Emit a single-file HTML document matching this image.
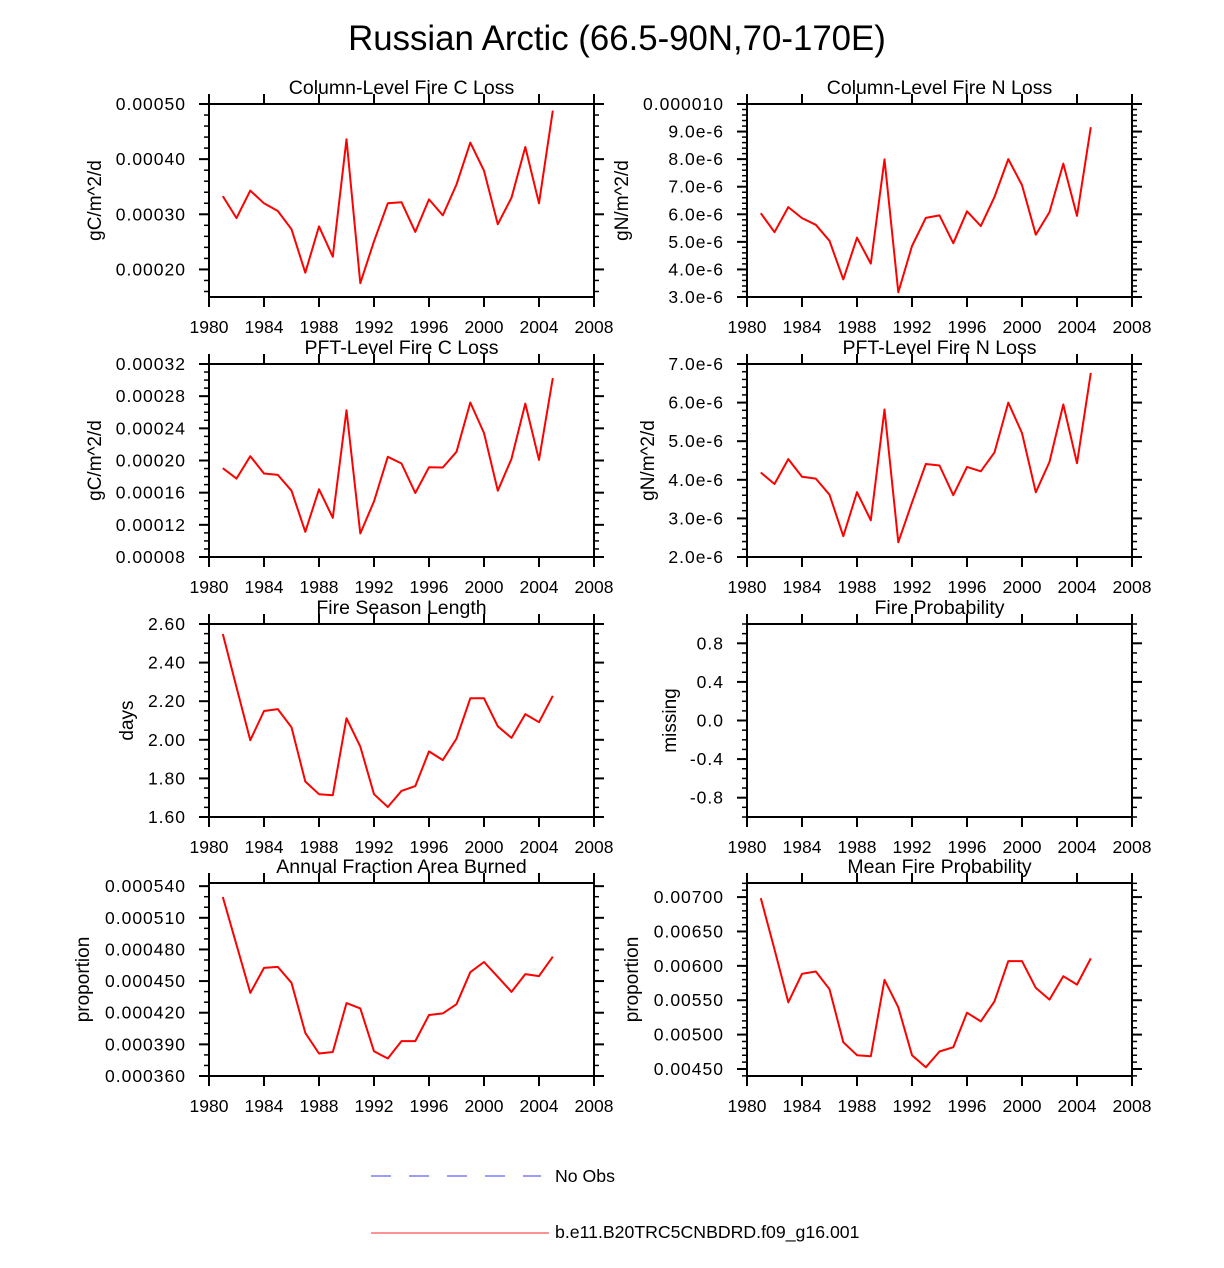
<!DOCTYPE html>
<html><head><meta charset="utf-8">
<style>
html,body{margin:0;padding:0;background:#fff;}
svg{display:block;font-family:"Liberation Sans",Arial,sans-serif;}
</style></head>
<body>
<svg id="fig" width="1224" height="1268" viewBox="0 0 1224 1268" xmlns="http://www.w3.org/2000/svg">
<text x="617" y="50" font-size="34.8" text-anchor="middle">Russian Arctic (66.5-90N,70-170E)</text>
<g>
<line x1="371" y1="1176" x2="541" y2="1176" stroke="#7b7bff" stroke-width="1.5" stroke-dasharray="20,18"/>
<text x="555" y="1182" font-size="17.7">No Obs</text>
<line x1="371" y1="1233" x2="549" y2="1233" stroke="#ff5050" stroke-width="1.2"/>
<text x="555" y="1238" font-size="17.7">b.e11.B20TRC5CNBDRD.f09_g16.001</text>
</g>
</svg>
<script>
const years = [1981,1982,1983,1984,1985,1986,1987,1988,1989,1990,1991,1992,1993,1994,1995,1996,1997,1998,1999,2000,2001,2002,2003,2004,2005];
const xTicks = [1980,1984,1988,1992,1996,2000,2004,2008];
const colCLoss = [0.000333,0.000293,0.000343,0.000320,0.000306,0.000273,0.000194,0.000278,0.000223,0.000436,0.000175,0.000251,0.000320,0.000322,0.000268,0.000327,0.000298,0.000354,0.000430,0.000379,0.000282,0.000330,0.000422,0.000320,0.000488];
const colNLoss = [6.04e-6,5.35e-6,6.26e-6,5.86e-6,5.62e-6,5.04e-6,3.64e-6,5.15e-6,4.21e-6,7.99e-6,3.17e-6,4.85e-6,5.87e-6,5.96e-6,4.95e-6,6.11e-6,5.57e-6,6.63e-6,8.00e-6,7.06e-6,5.26e-6,6.08e-6,7.84e-6,5.94e-6,9.16e-6];
const pftCLoss = [0.0001904,0.0001775,0.0002054,0.0001838,0.0001821,0.0001625,0.0001113,0.0001642,0.0001288,0.0002625,0.0001092,0.0001492,0.0002046,0.0001963,0.0001596,0.0001917,0.0001913,0.0002108,0.0002721,0.0002342,0.0001625,0.0002021,0.0002708,0.0002008,0.0003025];
const pftNLoss = [4.19e-6,3.89e-6,4.535e-6,4.08e-6,4.03e-6,3.615e-6,2.54e-6,3.68e-6,2.95e-6,5.82e-6,2.38e-6,3.41e-6,4.41e-6,4.37e-6,3.60e-6,4.335e-6,4.22e-6,4.71e-6,6.0e-6,5.21e-6,3.675e-6,4.465e-6,5.95e-6,4.43e-6,6.77e-6];
const seasonLen = [2.548,2.272,1.998,2.149,2.159,2.065,1.784,1.718,1.713,2.112,1.965,1.718,1.652,1.735,1.760,1.940,1.895,2.006,2.215,2.215,2.070,2.010,2.133,2.091,2.228];
const fireProb = [];
const areaBurned = [0.0005297,0.0004844,0.0004388,0.0004625,0.0004634,0.0004484,0.0004009,0.0003813,0.0003828,0.0004291,0.0004241,0.0003834,0.0003766,0.0003931,0.0003931,0.0004178,0.0004194,0.0004281,0.0004584,0.0004681,0.0004541,0.0004397,0.0004566,0.0004547,0.0004731];
const meanProb = [0.006985,0.00624,0.00547,0.005884,0.005918,0.00566,0.00489,0.0047,0.004685,0.005796,0.005397,0.0047,0.004525,0.004754,0.004817,0.005319,0.005192,0.005484,0.006069,0.006069,0.00568,0.005509,0.00585,0.005728,0.006108];

const ticks1 = [0.0002,0.0003,0.0004,0.0005]; const labels1 = ["0.00020","0.00030","0.00040","0.00050"];
const ticks2 = [3e-6,4e-6,5e-6,6e-6,7e-6,8e-6,9e-6,1e-5]; const labels2 = ["3.0e-6","4.0e-6","5.0e-6","6.0e-6","7.0e-6","8.0e-6","9.0e-6","0.000010"];
const ticks3 = [0.00008,0.00012,0.00016,0.0002,0.00024,0.00028,0.00032]; const labels3 = ["0.00008","0.00012","0.00016","0.00020","0.00024","0.00028","0.00032"];
const ticks4 = [2e-6,3e-6,4e-6,5e-6,6e-6,7e-6]; const labels4 = ["2.0e-6","3.0e-6","4.0e-6","5.0e-6","6.0e-6","7.0e-6"];
const ticks5 = [1.6,1.8,2.0,2.2,2.4,2.6]; const labels5 = ["1.60","1.80","2.00","2.20","2.40","2.60"];
const ticks6 = [-0.8,-0.4,0,0.4,0.8]; const labels6 = ["-0.8","-0.4","0.0","0.4","0.8"];
const ticks7 = [0.00036,0.00039,0.00042,0.00045,0.00048,0.00051,0.00054]; const labels7 = ["0.000360","0.000390","0.000420","0.000450","0.000480","0.000510","0.000540"];
const ticks8 = [0.0045,0.005,0.0055,0.006,0.0065,0.007]; const labels8 = ["0.00450","0.00500","0.00550","0.00600","0.00650","0.00700"];

const NS = "http://www.w3.org/2000/svg";
const svg = document.getElementById('fig');
function mk(tag, attrs, parent){const e=document.createElementNS(NS,tag);for(const k in attrs)e.setAttribute(k,attrs[k]);(parent||svg).appendChild(e);return e;}

const panels = [
 {name:'column-c-loss',title:'Column-Level Fire C Loss',ytitle:'gC/m^2/d',x0:209,y0:104,ymin:0.00015,ymax:0.0005,minor:0.00002,ticks:ticks1,labels:labels1,data:colCLoss,tx:95},
 {name:'column-n-loss',title:'Column-Level Fire N Loss',ytitle:'gN/m^2/d',x0:747,y0:104,ymin:3e-6,ymax:1e-5,minor:2e-7,ticks:ticks2,labels:labels2,data:colNLoss,tx:622},
 {name:'pft-c-loss',title:'PFT-Level Fire C Loss',ytitle:'gC/m^2/d',x0:209,y0:364,ymin:0.00008,ymax:0.00032,minor:0.00001,ticks:ticks3,labels:labels3,data:pftCLoss,tx:95},
 {name:'pft-n-loss',title:'PFT-Level Fire N Loss',ytitle:'gN/m^2/d',x0:747,y0:364,ymin:2e-6,ymax:7e-6,minor:2e-7,ticks:ticks4,labels:labels4,data:pftNLoss,tx:648},
 {name:'fire-season-length',title:'Fire Season Length',ytitle:'days',x0:209,y0:624,ymin:1.6,ymax:2.6,minor:0.05,ticks:ticks5,labels:labels5,data:seasonLen,tx:127},
 {name:'fire-probability',title:'Fire Probability',ytitle:'missing',x0:747,y0:624,ymin:-1,ymax:1,minor:0.1,ticks:ticks6,labels:labels6,data:fireProb,tx:670},
 {name:'annual-fraction-area-burned',title:'Annual Fraction Area Burned',ytitle:'proportion',x0:209,y0:883,ymin:0.00036,ymax:0.000543,minor:0.00001,ticks:ticks7,labels:labels7,data:areaBurned,tx:83},
 {name:'mean-fire-probability',title:'Mean Fire Probability',ytitle:'proportion',x0:747,y0:883,ymin:0.004398,ymax:0.007205,minor:0.0001,ticks:ticks8,labels:labels8,data:meanProb,tx:632}
];
const W=385, H=193;
panels.forEach(p=>{
  const g = mk('g',{});
  
  
  const xs = v => p.x0 + (v-1980)/28*W;
  const ys = v => p.y0 + H - (v-p.ymin)/(p.ymax-p.ymin)*H;
  const t = mk('text',{x:p.x0+W/2,y:p.y0-10,'font-size':19.5,'text-anchor':'middle'},g);
  t.textContent = p.title;
  
  
  const yt = mk('text',{x:p.tx,y:p.y0+H/2+6,'font-size':19,'text-anchor':'middle',transform:`rotate(-90 ${p.tx} ${p.y0+H/2})`},g);
  yt.textContent = p.ytitle;
  
  
  const n0 = Math.ceil(p.ymin/p.minor - 1e-6), n1 = Math.floor(p.ymax/p.minor + 1e-6);
  for(let i=n0;i<=n1;i++){const y=ys(i*p.minor);
    mk('line',{x1:p.x0-5,x2:p.x0,y1:y,y2:y,stroke:'#000','stroke-width':1.5},g);
    mk('line',{x1:p.x0+W,x2:p.x0+W+5,y1:y,y2:y,stroke:'#000','stroke-width':1.5},g);}
  p.ticks.forEach((v,i)=>{const y=ys(v);
    mk('line',{x1:p.x0-10,x2:p.x0,y1:y,y2:y,stroke:'#000','stroke-width':2},g);
    mk('line',{x1:p.x0+W,x2:p.x0+W+10,y1:y,y2:y,stroke:'#000','stroke-width':2},g);
    const l=mk('text',{x:p.x0-23,y:y+6,'font-size':17.5,'letter-spacing':1,'text-anchor':'end'},g);
    l.textContent=p.labels[i];
    
    });
  xTicks.forEach(v=>{const x=xs(v);
    mk('line',{x1:x,x2:x,y1:p.y0+H,y2:p.y0+H+10,stroke:'#000','stroke-width':2},g);
    mk('line',{x1:x,x2:x,y1:p.y0-10,y2:p.y0,stroke:'#000','stroke-width':2},g);
    const l=mk('text',{x:x,y:p.y0+H+36,'font-size':17.5,'text-anchor':'middle'},g);
    l.textContent=v;
    
    });
  const r = mk('rect',{x:p.x0,y:p.y0,width:W,height:H,fill:'none',stroke:'#000','stroke-width':2},g);
  
  
  if(p.data.length){
    const pts = p.data.map((v,i)=>xs(years[i]).toFixed(1)+','+ys(v).toFixed(1)).join(' ');
    const pl = mk('polyline',{points:pts,fill:'none',stroke:'#ff0000','stroke-width':2,'stroke-linejoin':'round'},g);
    
    
  }
});
</script>
</body></html>
